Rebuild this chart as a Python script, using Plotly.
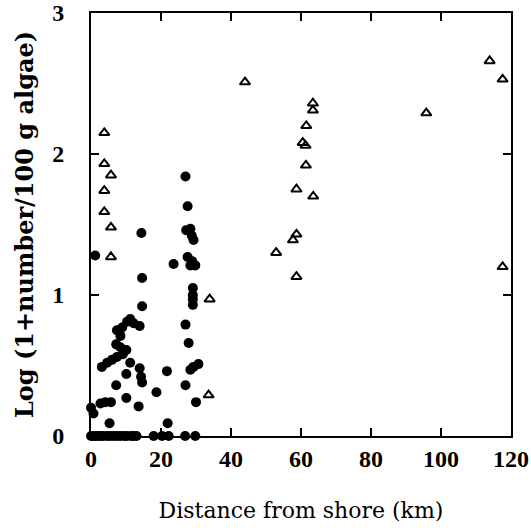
import plotly.graph_objects as go

# offshore sites: open triangles
tri_x = [113.9, 117.6, 44.0, 95.8, 63.4, 63.4, 61.5, 60.5, 61.3, 61.4, 58.7, 63.5,
         58.7, 57.7, 52.9, 58.7, 117.6, 33.9, 33.6,
         3.8, 3.8, 5.7, 3.8, 3.8, 5.7, 5.7]
tri_y = [2.66, 2.53, 2.51, 2.29, 2.36, 2.31, 2.20, 2.08, 2.06, 1.92, 1.75, 1.70,
         1.43, 1.39, 1.30, 1.13, 1.20, 0.97, 0.29,
         2.15, 1.93, 1.85, 1.74, 1.59, 1.48, 1.27]

# inshore sites: filled circles
dot_x = [27.0, 27.6, 14.4, 27.2, 28.4, 28.8, 29.3, 1.2, 23.6, 27.6, 28.9, 28.4, 29.8,
         14.6, 29.1, 29.1, 29.1, 29.1, 14.6,
         11.2, 10.3, 8.9, 7.4, 12.2, 13.9, 8.4, 27.0, 27.9, 7.2,
         8.4, 10.1, 9.1, 7.4, 6.0, 4.6, 3.1, 11.2, 30.7, 29.3, 28.4, 13.9, 21.7, 10.1,
         14.3, 14.6, 7.2, 27.0, 18.7, 10.1, 5.7, 4.1, 2.7, 30.0, 13.6, 0.0, 0.7,
         21.9, 5.3,
         0.0, 0.5, 1.2, 2.0, 2.7, 3.5, 4.6, 5.5, 6.5, 7.5, 8.4, 9.5, 10.3, 11.5,
         12.2, 13.0, 17.9, 20.3, 22.2, 26.9, 29.8]
dot_y = [1.84, 1.63, 1.44, 1.46, 1.47, 1.42, 1.39, 1.28, 1.22, 1.27, 1.24, 1.21, 1.21,
         1.12, 1.05, 1.00, 0.97, 0.93, 0.92,
         0.83, 0.81, 0.77, 0.75, 0.80, 0.78, 0.71, 0.79, 0.66, 0.65,
         0.63, 0.61, 0.58, 0.56, 0.54, 0.52, 0.49, 0.52, 0.51, 0.49, 0.47, 0.48, 0.46, 0.44,
         0.42, 0.38, 0.36, 0.36, 0.31, 0.27, 0.24, 0.24, 0.23, 0.24, 0.21, 0.20, 0.16,
         0.09, 0.09,
         0, 0, 0, 0, 0, 0, 0, 0, 0, 0, 0, 0, 0, 0,
         0, 0, 0, 0, 0, 0, 0]

x_ticks = [0, 20, 40, 60, 80, 100, 120]
y_ticks = [0, 1, 2, 3]

font = "Liberation Serif"
title_font = "DejaVu Serif"

fig = go.Figure()
fig.add_trace(go.Scatter(
    x=dot_x, y=dot_y, mode="markers",
    marker=dict(symbol="circle", size=10, color="black"),
    cliponaxis=False, showlegend=False))
fig.add_trace(go.Scatter(
    x=tri_x, y=tri_y, mode="markers",
    marker=dict(symbol="triangle-up-open", size=9, color="black",
                line=dict(width=2, color="black")),
    cliponaxis=False, showlegend=False))

axis_common = dict(showline=True, linecolor="black", linewidth=2, mirror="ticks",
                   ticks="inside", ticklen=8, tickwidth=2, tickcolor="black",
                   showgrid=False, zeroline=False, automargin=False,
                   ticklabeloverflow="allow",
                   tickfont=dict(family=font, size=24, color="black", weight="bold"))

fig.update_xaxes(range=[0, 120], tickvals=x_ticks,
                 title=dict(text="Distance from shore (km)", standoff=32,
                            font=dict(family=title_font, size=22, color="black")),
                 **axis_common)
fig.update_yaxes(range=[0, 3], tickvals=y_ticks, ticklabelstandoff=20,
                 title=dict(text="Log (1+number/100 g algae)", standoff=12,
                            font=dict(family=title_font, size=24, color="black", weight="bold")),
                 **axis_common)

fig.update_layout(width=531, height=532, plot_bgcolor="white", paper_bgcolor="white",
                  margin=dict(l=91, r=20, t=13, b=96))

# drop the default page margin so the figure sits in the window corner
fig.write_html("out.html", config={"displayModeBar": False},
               post_script="document.body.style.margin = '0';")
